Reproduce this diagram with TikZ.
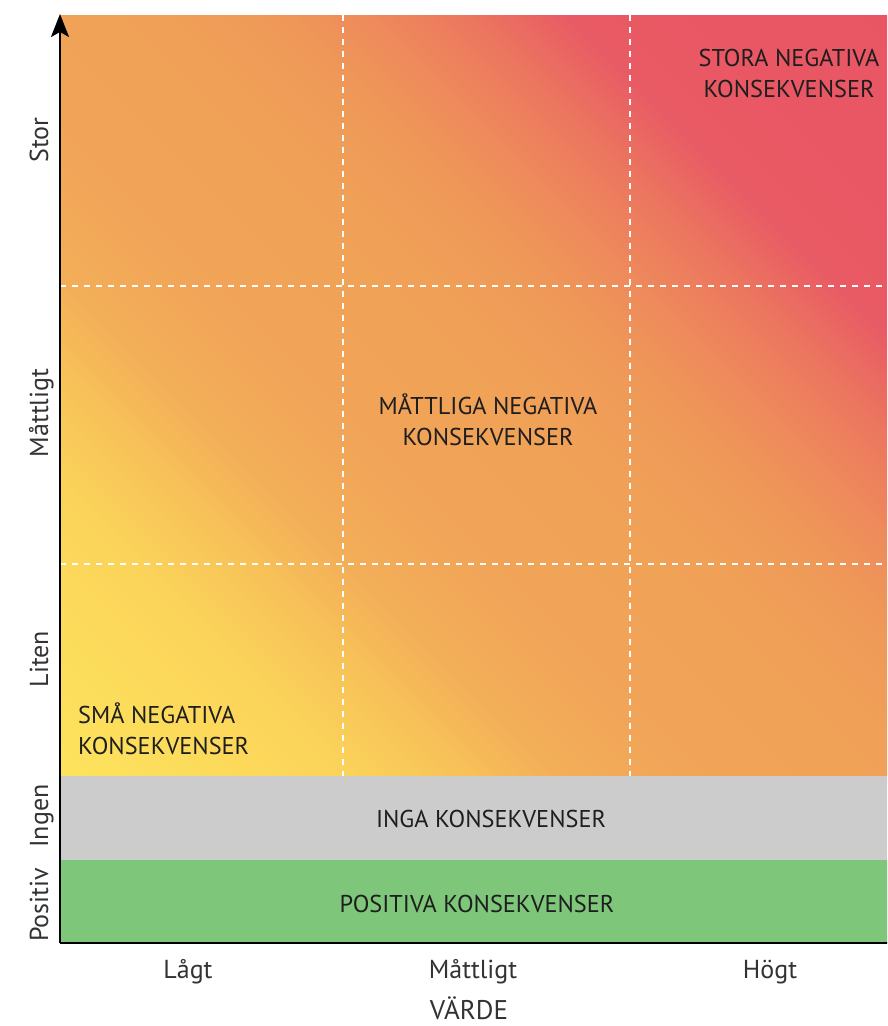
\documentclass[tikz,border=0pt]{standalone}
\usepackage{fontspec}
\setmainfont{PT Sans}
\usetikzlibrary{arrows.meta}

% colour scale of the consequence field, from small to large
\definecolor{hA}{HTML}{FDE35D}
\definecolor{hB}{HTML}{FCDB5B}
\definecolor{hC}{HTML}{FBD35A}
\definecolor{hD}{HTML}{F7C258}
\definecolor{hE}{HTML}{F3AE58}
\definecolor{hF}{HTML}{F1A558}
\definecolor{hG}{HTML}{F0A157}
\definecolor{hH}{HTML}{EF9A58}
\definecolor{hI}{HTML}{EE8C5B}
\definecolor{hJ}{HTML}{EC765F}
\definecolor{hK}{HTML}{E95B64}
\definecolor{hL}{HTML}{E95764}
\definecolor{hM}{HTML}{E85563}
\definecolor{bandgray}{HTML}{CCCCCC}
\definecolor{bandgreen}{HTML}{7DC67A}
\definecolor{inktext}{HTML}{1E1E1E}
\definecolor{axistext}{HTML}{333333}

% diagonal heat scale; used on a square so that the bands run at 45 degrees
\pgfdeclarehorizontalshading{heat}{100bp}{
  color(0bp)=(hA); color(14.64bp)=(hA); color(20.8bp)=(hB);
  color(26.3bp)=(hC); color(31.1bp)=(hD); color(35.2bp)=(hE);
  color(40.1bp)=(hF); color(49.5bp)=(hG); color(54.1bp)=(hH);
  color(58.2bp)=(hI); color(62.7bp)=(hJ); color(66.8bp)=(hK);
  color(72.1bp)=(hL); color(85.4bp)=(hM); color(100bp)=(hM)}

\tikzset{
  gridline/.style={white, line width=1.4pt, dash pattern=on 6pt off 6pt},
  axisline/.style={black, line width=2.4pt},
  zonetext/.style={text=inktext, font=\fontsize{24.3}{31}\selectfont, align=center, inner sep=0pt},
  ticktext/.style={text=axistext, font=\fontsize{26}{30}\selectfont, inner sep=0pt},
  sidetext/.style={ticktext, rotate=90},
}

\begin{document}
\begin{tikzpicture}[x=1pt, y=-1pt]
  \useasboundingbox (0,0) rectangle (887,1026);
  \clip (0,0) rectangle (887,1026);

  % consequence field
  \begin{scope}
    \clip (60,15) rectangle (917,776);
    \shade[shading=heat, shading angle=45] (60,776) rectangle (921,-85);
  \end{scope}
  % bands for no and positive consequences
  \fill[bandgray] (60,776) rectangle (917,860);
  \fill[bandgreen] (60,860) rectangle (917,943);

  % grid
  \draw[gridline] (343,15) -- (343,776);
  \draw[gridline] (630,15) -- (630,776);
  \draw[gridline] (60,286) -- (917,286);
  \draw[gridline] (60,564) -- (917,564);

  % axes
  \coordinate (origin) at (60,943);
  \coordinate (ytip) at (60,14);
  \coordinate (xend) at (900,943);
  \draw[axisline] (origin) -- (xend);
  \draw[axisline, -{Stealth[length=23pt, width=18pt, inset=5pt]}] (origin) -- (ytip);

  % zone labels
  \node[zonetext, anchor=center] (stora) at (789,73) {STORA NEGATIVA\\KONSEKVENSER};
  \node[zonetext, anchor=center] (mattliga) at (488,420) {MÅTTLIGA NEGATIVA\\KONSEKVENSER};
  \node[zonetext, anchor=west, align=left] (sma) at (78,729) {SMÅ NEGATIVA\\KONSEKVENSER};
  \node[zonetext, anchor=base] (inga) at (491,827) {INGA KONSEKVENSER};
  \node[zonetext, anchor=base] (positiva) at (477,912) {POSITIVA KONSEKVENSER};

  % vertical axis ticks
  \node[sidetext, anchor=base] (stor) at (48,140) {Stor};
  \node[sidetext, anchor=base] (ymatt) at (48,413) {Måttligt};
  \node[sidetext, anchor=base] (liten) at (48,659) {Liten};
  \node[sidetext, anchor=base] (ingen) at (48,816) {Ingen};
  \node[sidetext, anchor=base] (positiv) at (48,905) {Positiv};

  % horizontal axis ticks
  \node[ticktext, anchor=base] (lagt) at (188,978) {Lågt};
  \node[ticktext, anchor=base] (xmatt) at (473,978) {Måttligt};
  \node[ticktext, anchor=base] (hogt) at (770,978) {Högt};
  \node[ticktext, anchor=base, font=\fontsize{27}{31}\selectfont] (varde) at (469,1019) {VÄRDE};
\end{tikzpicture}
\end{document}
